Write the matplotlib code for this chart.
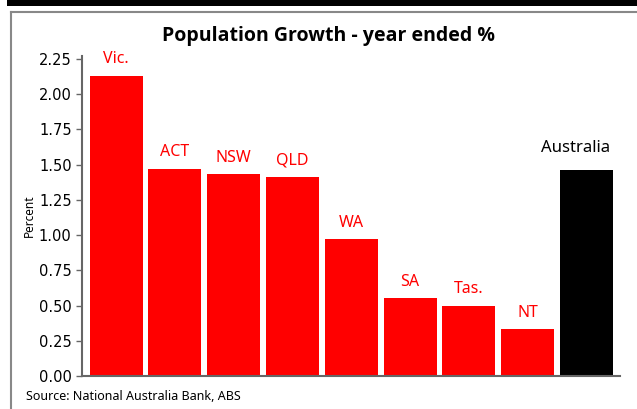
import matplotlib
matplotlib.use("Agg")
import matplotlib.pyplot as plt
from matplotlib.lines import Line2D
from matplotlib.patches import Rectangle

regions = ["Vic.", "ACT", "NSW", "QLD", "WA", "SA", "Tas.", "NT", "Australia"]
growth = [2.13, 1.47, 1.43, 1.41, 0.97, 0.55, 0.50, 0.33, 1.46]
yticks = [0.00, 0.25, 0.50, 0.75, 1.00, 1.25, 1.50, 1.75, 2.00, 2.25]

W, H = 637, 409
fig = plt.figure(figsize=(W / 100, H / 100), dpi=100)

# frame decorations
fig.add_artist(Rectangle((7 / W, 1 - 6 / H), 1, 6 / H, transform=fig.transFigure,
                         color="black", lw=0))
fig.add_artist(Line2D([10.5 / W, 1], [1 - 11.5 / H] * 2, transform=fig.transFigure,
                      color="#888888", lw=1.5))
fig.add_artist(Line2D([10.5 / W] * 2, [0, 1 - 11.5 / H], transform=fig.transFigure,
                      color="#888888", lw=1.5))

ax = fig.add_axes([82 / W, 1 - 376 / H, (620 - 82) / W, (376 - 56) / H])
x = list(range(len(regions)))
colors = ["red"] * (len(regions) - 1) + ["black"]
ax.bar(x, growth, width=0.9, color=colors)

for xi, name, val, c in zip(x, regions, growth, colors):
    if name == "Australia":
        ax.annotate(name, (xi, val), xytext=(-8, 10), textcoords="offset points",
                    ha="center", va="bottom", color="black", fontsize=12,
                    family="Noto Sans")
    else:
        ax.annotate(name, (xi, val), xytext=(0, 6), textcoords="offset points",
                    ha="center", va="bottom", color="red", fontsize=11.5,
                    family="Noto Sans")

ax.set_xlim(-0.58, 8.57)
ax.set_ylim(0, 2.27)
ax.set_yticks(yticks)
ax.set_yticklabels([f"{t:.2f}" for t in yticks], fontsize=10.5)
ax.set_xticks([])
ax.set_ylabel("Percent", fontsize=8.5, family="Noto Sans", labelpad=2)
for s in ["top", "right"]:
    ax.spines[s].set_visible(False)
for s in ["left", "bottom"]:
    ax.spines[s].set_color("#666666")
    ax.spines[s].set_linewidth(1.5)
ax.tick_params(axis="y", color="#666666", length=4, width=1)

fig.text(328 / W, 1 - 36 / H, "Population Growth - year ended %", ha="center",
         va="center", fontsize=14, fontweight="bold", family="Open Sans")
fig.text(26 / W, 1 - 396 / H, "Source: National Australia Bank, ABS", ha="left",
         va="center", fontsize=9, family="Noto Sans")

fig.savefig("out.png", dpi=100)
